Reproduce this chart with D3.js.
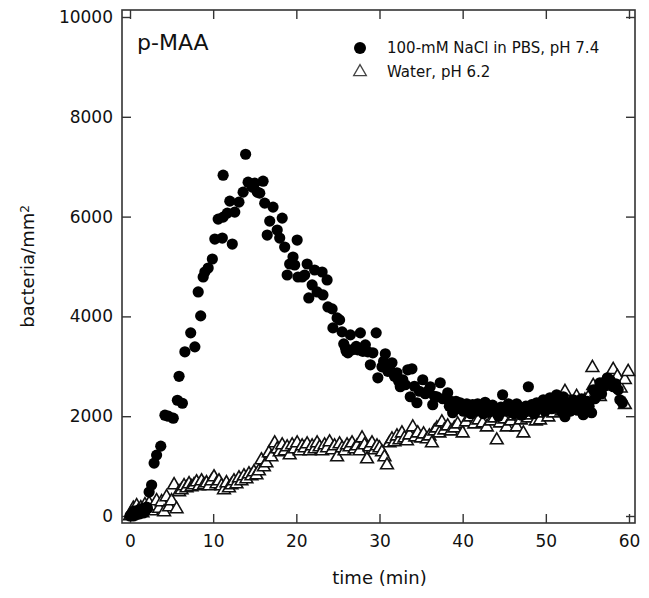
<!DOCTYPE html>
<html>
<head>
<meta charset="utf-8">
<script src="https://cdn.jsdelivr.net/npm/d3@7"></script>
<style>
  body { margin: 0; background: #fff; }
  text { font-family: "DejaVu Sans", sans-serif; fill: #111; }
</style>
</head>
<body>
<div id="chart"></div>
<script>
// data (time in min, bacteria per mm^2)
var naclTime = [0.0, 0.1, 0.3, 0.4, 0.5, 0.6, 0.8, 0.9, 1.0, 1.1, 1.2, 1.4, 1.5, 1.6, 1.8, 1.9, 2.0, 2.1, 2.3, 2.6, 2.9, 3.2, 3.7, 4.2, 4.6, 5.2, 5.7, 5.9, 6.3, 6.6, 7.3, 7.8, 8.2, 8.5, 8.8, 9.0, 9.4, 9.9, 10.2, 10.6, 11.1, 11.2, 11.2, 11.7, 12.0, 12.3, 12.6, 13.1, 13.6, 13.9, 14.2, 14.7, 15.0, 15.3, 15.6, 16.0, 16.2, 16.5, 16.8, 17.2, 17.7, 18.0, 18.3, 18.6, 18.9, 19.2, 19.6, 19.8, 20.1, 20.2, 20.7, 21.0, 21.3, 21.5, 21.9, 22.2, 22.5, 23.1, 23.2, 23.7, 23.8, 24.3, 24.4, 24.9, 25.2, 25.5, 25.7, 25.9, 26.0, 26.2, 26.5, 26.7, 27.0, 27.2, 27.4, 27.7, 28.0, 28.1, 28.3, 28.6, 28.9, 29.2, 29.6, 29.8, 30.3, 30.5, 30.7, 31.0, 31.2, 31.5, 31.8, 32.1, 32.1, 32.3, 32.5, 32.8, 33.1, 33.4, 33.7, 33.9, 34.2, 34.5, 34.8, 35.2, 35.5, 35.8, 36.1, 36.4, 36.6, 36.9, 37.3, 37.6, 38.0, 38.2, 38.4, 38.6, 38.8, 39.0, 39.2, 39.4, 39.7, 39.9, 40.1, 40.3, 40.5, 40.8, 41.0, 41.2, 41.4, 41.6, 41.8, 42.1, 42.3, 42.5, 42.7, 42.9, 43.1, 43.4, 43.6, 43.9, 44.1, 44.3, 44.6, 44.8, 45.0, 45.2, 45.5, 45.7, 45.9, 46.2, 46.5, 46.7, 46.9, 47.1, 47.4, 47.6, 47.9, 48.1, 48.3, 48.6, 48.9, 49.1, 49.3, 49.5, 49.7, 49.9, 50.1, 50.3, 50.5, 50.7, 50.9, 51.1, 51.3, 51.5, 51.7, 51.9, 52.1, 52.3, 52.5, 52.7, 52.9, 53.1, 53.3, 53.6, 53.8, 54.1, 54.3, 54.5, 54.8, 55.0, 55.2, 55.5, 55.7, 55.9, 56.1, 56.3, 56.5, 56.7, 57.0, 57.2, 57.4, 57.7, 57.9, 58.1, 58.4, 58.7, 58.9, 59.2];
var naclValue = [0, 20, 50, 0, 100, 60, 30, 90, 120, 40, 80, 100, 150, 60, 100, 130, 180, 150, 480, 620, 1060, 1220, 1400, 2020, 2000, 1960, 2320, 2800, 2260, 3290, 3670, 3390, 4490, 4010, 4790, 4890, 4970, 5150, 5550, 5950, 5570, 5990, 6830, 6070, 6310, 5450, 6090, 6290, 6490, 7250, 6690, 6590, 6670, 6490, 6470, 6710, 6270, 5630, 5910, 6190, 5730, 5570, 5970, 5390, 4830, 5050, 5190, 5030, 5530, 4790, 4790, 4830, 5050, 4370, 4630, 4930, 4490, 4890, 4430, 4730, 4190, 4150, 3770, 3970, 3930, 3690, 3450, 3370, 3300, 3270, 3630, 3330, 3350, 3400, 3330, 3670, 3300, 3350, 3430, 3290, 3030, 3270, 3670, 2770, 2990, 3100, 3250, 2900, 2950, 3070, 2800, 2870, 2790, 2700, 2590, 2730, 2630, 2930, 2390, 2950, 2600, 2270, 2500, 2730, 2450, 2500, 2590, 2230, 2400, 2390, 2670, 2350, 2350, 2470, 2200, 2300, 2070, 2250, 2300, 2150, 2270, 2200, 2100, 2190, 2250, 2150, 2050, 2230, 2180, 2100, 2250, 2190, 2120, 2050, 2280, 2230, 2080, 2150, 2220, 2130, 2060, 2000, 2180, 2430, 2150, 2100, 2250, 2190, 2080, 2050, 2250, 2120, 2170, 2020, 2080, 2200, 2590, 2100, 2230, 2050, 2270, 2180, 2150, 2250, 2330, 2100, 2200, 2300, 2370, 2150, 2250, 2350, 2430, 2200, 2300, 2100, 2390, 1990, 2250, 2200, 2100, 2190, 2330, 2300, 2120, 2230, 2350, 2030, 2150, 2300, 2200, 2070, 2530, 2350, 2400, 2550, 2670, 2450, 2600, 2700, 2770, 2730, 2650, 2590, 2650, 2530, 2330, 2270];

var waterTime = [0.0, 0.2, 0.4, 0.6, 0.8, 1.0, 1.3, 1.5, 1.8, 2.0, 2.3, 2.6, 2.9, 3.2, 3.5, 3.8, 4.1, 4.4, 4.7, 5.0, 5.3, 5.6, 5.9, 6.2, 6.5, 6.8, 7.1, 7.4, 7.7, 8.0, 8.3, 8.6, 8.9, 9.2, 9.5, 9.8, 10.1, 10.4, 10.7, 11.0, 11.3, 11.6, 11.9, 12.2, 12.5, 12.8, 13.1, 13.4, 13.7, 14.0, 14.3, 14.6, 14.9, 15.2, 15.5, 15.8, 16.1, 16.4, 16.7, 17.0, 17.4, 17.7, 18.0, 18.3, 18.6, 18.9, 19.2, 19.5, 19.8, 20.1, 20.4, 20.7, 21.0, 21.3, 21.6, 21.9, 22.2, 22.5, 22.8, 23.1, 23.4, 23.7, 24.0, 24.3, 24.6, 24.9, 25.2, 25.5, 25.8, 26.1, 26.4, 26.7, 27.0, 27.3, 27.6, 27.9, 28.2, 28.5, 28.8, 29.1, 29.4, 29.7, 30.0, 30.3, 30.6, 30.9, 31.2, 31.5, 31.8, 32.1, 32.4, 32.7, 33.0, 33.3, 33.6, 34.0, 34.3, 34.6, 35.0, 35.3, 35.7, 36.0, 36.3, 36.6, 36.9, 37.2, 37.5, 37.8, 38.2, 38.6, 39.0, 39.4, 40.0, 40.4, 40.9, 41.4, 41.9, 42.4, 42.9, 43.4, 43.8, 44.1, 44.5, 45.0, 45.3, 45.8, 46.2, 46.5, 47.0, 47.3, 47.8, 48.3, 48.8, 49.3, 49.8, 50.3, 50.9, 51.4, 51.9, 52.3, 52.8, 53.3, 53.7, 54.2, 54.7, 55.2, 55.6, 55.7, 56.1, 56.5, 56.9, 57.3, 57.7, 58.1, 58.6, 59.0, 59.5, 59.5, 59.9];
var waterValue = [0, 80, 150, 40, 200, 100, 160, 60, 220, 120, 250, 100, 200, 300, 150, 280, 80, 380, 180, 300, 620, 140, 480, 520, 600, 560, 640, 580, 620, 680, 600, 700, 620, 660, 600, 700, 780, 640, 700, 600, 520, 660, 560, 620, 700, 640, 760, 700, 800, 740, 840, 800, 880, 820, 900, 1120, 980, 1060, 1260, 1180, 1460, 1340, 1280, 1420, 1300, 1380, 1220, 1420, 1340, 1460, 1300, 1400, 1360, 1440, 1300, 1400, 1340, 1460, 1380, 1300, 1420, 1360, 1480, 1320, 1400, 1180, 1440, 1360, 1300, 1420, 1380, 1460, 1340, 1400, 1300, 1560, 1420, 1140, 1380, 1460, 1320, 1400, 1360, 1280, 1180, 1020, 1460, 1540, 1480, 1600, 1520, 1660, 1560, 1500, 1620, 1780, 1580, 1660, 1560, 1640, 1540, 1600, 1460, 1700, 1760, 1660, 1880, 1720, 1800, 1700, 1760, 1840, 1660, 1880, 1980, 1840, 1920, 1860, 1780, 1900, 1960, 1520, 1860, 1940, 1780, 1900, 2000, 1780, 1920, 1660, 1960, 2020, 1900, 1920, 2060, 1980, 2060, 2140, 2100, 2490, 2200, 2160, 2390, 2260, 2320, 2400, 2970, 2610, 2500, 2390, 2600, 2700, 2660, 2930, 2790, 2560, 2730, 2230, 2890];

var xTicks = [0, 10, 20, 30, 40, 50, 60];
var yTicks = [0, 2000, 4000, 6000, 8000, 10000];
var seriesNames = ["100-mM NaCl in PBS, pH 7.4", "Water, pH 6.2"];

var W = 649, H = 598;
var frame = { left: 122, right: 635, top: 10, bottom: 523 };

var svg = d3.select("#chart").append("svg")
  .attr("width", W)
  .attr("height", H);

var x = d3.scaleLinear().domain([0, 60]).range([130, 629]);
var y = d3.scaleLinear().domain([0, 10000]).range([516, 17]);

// frame box
svg.append("rect")
  .attr("x", frame.left)
  .attr("y", frame.top)
  .attr("width", frame.right - frame.left)
  .attr("height", frame.bottom - frame.top)
  .attr("fill", "none")
  .attr("stroke", "#333")
  .attr("stroke-width", 1.6);

// axes with inward ticks on all four sides
var tickLen = 9;
function styleAxis(g) {
  g.select(".domain").remove();
  g.selectAll(".tick line").attr("stroke", "#333").attr("stroke-width", 1.4);
  g.selectAll(".tick text")
    .style("font-family", "'DejaVu Sans', sans-serif")
    .style("font-size", "17px")
    .attr("fill", "#111");
}

svg.append("g")
  .attr("transform", "translate(0," + frame.bottom + ")")
  .call(d3.axisBottom(x).tickValues(xTicks).tickSizeInner(-tickLen).tickSizeOuter(0).tickPadding(12))
  .call(styleAxis);

svg.append("g")
  .attr("transform", "translate(" + frame.left + ",0)")
  .call(d3.axisLeft(y).tickValues(yTicks).tickSizeInner(-tickLen).tickSizeOuter(0).tickPadding(9)
    .tickFormat(d3.format("d")))
  .call(styleAxis);

svg.append("g")
  .attr("transform", "translate(0," + frame.top + ")")
  .call(d3.axisTop(x).tickValues(xTicks).tickSizeInner(-tickLen).tickSizeOuter(0).tickFormat(""))
  .call(styleAxis);

svg.append("g")
  .attr("transform", "translate(" + frame.right + ",0)")
  .call(d3.axisRight(y).tickValues(yTicks).tickSizeInner(-tickLen).tickSizeOuter(0).tickFormat(""))
  .call(styleAxis);

// axis titles
svg.append("text")
  .attr("x", (x(0) + x(60)) / 2)
  .attr("y", 584)
  .attr("text-anchor", "middle")
  .style("font-size", "18px")
  .text("time (min)");

var ylab = svg.append("text")
  .attr("transform", "translate(34," + (frame.top + frame.bottom) / 2 + ") rotate(-90)")
  .attr("text-anchor", "middle")
  .style("font-size", "18px");
ylab.append("tspan").text("bacteria/mm");
ylab.append("tspan").attr("dy", "-0.45em").style("font-size", "12px").text("2");

// panel label
svg.append("text")
  .attr("x", 137)
  .attr("y", 50)
  .style("font-size", "22px")
  .text("p-MAA");

// water series: open triangles (drawn first, circles sit on top)
var water = waterTime.map(function (t, i) { return { t: t, v: waterValue[i] }; });
var tri = d3.symbol().type(d3.symbolTriangle).size(70);
svg.append("g").selectAll("path")
  .data(water)
  .enter()
  .append("path")
  .attr("d", tri)
  .attr("transform", function (d) { return "translate(" + x(d.t) + "," + y(d.v) + ")"; })
  .attr("fill", "#fff")
  .attr("stroke", "#111")
  .attr("stroke-width", 1.6);

// NaCl series: filled circles
var nacl = naclTime.map(function (t, i) { return { t: t, v: naclValue[i] }; });
svg.append("g").selectAll("circle")
  .data(nacl)
  .enter()
  .append("circle")
  .attr("cx", function (d) { return x(d.t); })
  .attr("cy", function (d) { return y(d.v); })
  .attr("r", 5.6)
  .attr("fill", "#000");

// legend
var legend = svg.append("g").attr("transform", "translate(360,48)");
legend.append("circle").attr("cx", 0).attr("cy", 0).attr("r", 6).attr("fill", "#000");
legend.append("path")
  .attr("d", tri)
  .attr("transform", "translate(0,24)")
  .attr("fill", "#fff")
  .attr("stroke", "#444")
  .attr("stroke-width", 1.3);
legend.selectAll("text")
  .data(seriesNames)
  .enter()
  .append("text")
  .attr("x", 27)
  .attr("y", function (d, i) { return i * 24; })
  .attr("dy", "0.36em")
  .style("font-size", "15px")
  .text(function (d) { return d; });
</script>
</body>
</html>
